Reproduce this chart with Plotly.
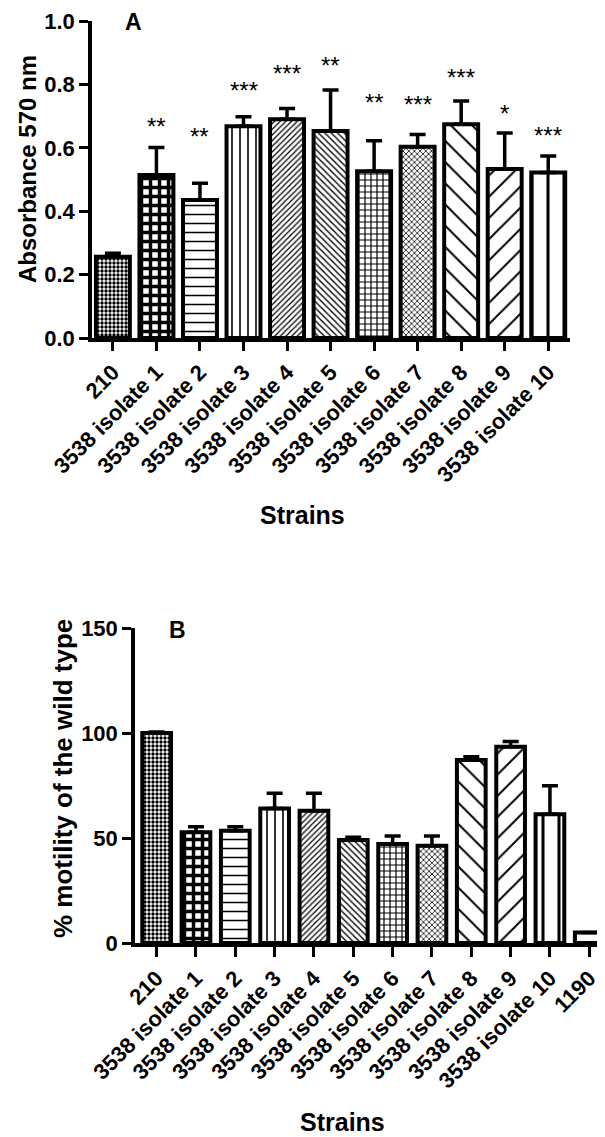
import plotly.graph_objects as go

# page body has a default 8px margin, so the figure is drawn 8px smaller
PAGE_W, PAGE_H = 605, 1137
OFF = 8
W, H = PAGE_W - OFF, PAGE_H - OFF

# ---------------- data ----------------
strains_a = ["210", "3538 isolate 1", "3538 isolate 2", "3538 isolate 3", "3538 isolate 4",
             "3538 isolate 5", "3538 isolate 6", "3538 isolate 7", "3538 isolate 8",
             "3538 isolate 9", "3538 isolate 10"]
absorbance = [0.256, 0.514, 0.435, 0.668, 0.690, 0.653, 0.526, 0.603, 0.674, 0.533, 0.522]
absorbance_sem = [0.011, 0.087, 0.053, 0.030, 0.034, 0.129, 0.096, 0.039, 0.074, 0.114, 0.052]
significance = ["", "**", "**", "***", "***", "**", "**", "***", "***", "*", "***"]
star_heights = [0, 0.668, 0.636, 0.780, 0.833, 0.859, 0.743, 0.738, 0.822, 0.708, 0.638]

strains_b = strains_a + ["1190"]
motility = [100, 52.7, 53.4, 64.1, 63.0, 49.0, 47.1, 46.3, 87.2, 93.5, 61.3, 5.0]
motility_sem = [0.5, 2.6, 1.9, 7.2, 8.3, 1.3, 3.8, 4.6, 1.5, 2.4, 13.6, 0.0]

# ---------------- styles ----------------
pat_shapes = [".", "+", "-", "|", "/", "\\", "+", "x", "\\", "/", "|", ""]
pat_sizes = [4, 9, 9, 8, 4, 4.5, 6, 4, 15, 15, 16, 8]
pat_solid = [0.55, 0.62, 0.17, 0.2, 0.3, 0.3, 0.36, 0.35, 0.13, 0.13, 0.19, 0.2]

FONT = "Liberation Sans, Arial, sans-serif"


def px_x(p):
    return (p - OFF) / W


def px_y(p):
    return 1 - (p - OFF) / H


fig = go.Figure()

na = len(strains_a)
fig.add_trace(go.Bar(
    x=strains_a, y=absorbance, xaxis="x", yaxis="y", width=0.78,
    marker=dict(color="white", line=dict(color="black", width=4),
                pattern=dict(shape=pat_shapes[:na], size=pat_sizes[:na], solidity=pat_solid[:na],
                             fgcolor="black", bgcolor="white", fillmode="replace")),
    error_y=dict(type="data", array=absorbance_sem, arrayminus=[0] * na, symmetric=False,
                 color="black", thickness=3.5, width=8),
    showlegend=False, hoverinfo="x+y",
))

nb = len(strains_b)
fig.add_trace(go.Bar(
    x=strains_b, y=motility, xaxis="x2", yaxis="y2", width=0.73,
    marker=dict(color="white", line=dict(color="black", width=4),
                pattern=dict(shape=pat_shapes[:nb], size=pat_sizes[:nb], solidity=pat_solid[:nb],
                             fgcolor="black", bgcolor="white", fillmode="replace")),
    error_y=dict(type="data", array=motility_sem, arrayminus=[0] * nb, symmetric=False,
                 color="black", thickness=3.5, width=8),
    showlegend=False, hoverinfo="x+y",
))

tickfont = dict(family=FONT, size=22, color="black", weight="bold")
axis_common = dict(showline=True, linecolor="black", linewidth=3.5, ticks="outside",
                   tickcolor="black", tickwidth=3, showgrid=False, zeroline=False,
                   automargin=False, tickfont=tickfont)

fig.update_layout(
    width=W, height=H, margin=dict(l=0, r=0, t=0, b=0),
    paper_bgcolor="white", plot_bgcolor="white",
    font=dict(family=FONT, color="black"),
    xaxis=dict(domain=[px_x(92), px_x(570)], anchor="y", range=[-0.48, 10.5],
               tickangle=-45, ticklen=9, **axis_common),
    yaxis=dict(domain=[px_y(338), px_y(21)], anchor="x", range=[0, 1.0], dtick=0.2,
               tickformat=".1f", ticklen=9, **axis_common),
    xaxis2=dict(domain=[px_x(135), px_x(605)], anchor="y2", range=[-0.55, 11.4],
                tickangle=-45, ticklen=10, **axis_common),
    yaxis2=dict(domain=[px_y(943), px_y(628)], anchor="x2", range=[0, 150], dtick=50,
                ticklen=9, **axis_common),
)

ann = []
# significance stars
for i, s in enumerate(significance):
    if s:
        ann.append(dict(x=strains_a[i], y=star_heights[i], xref="x", yref="y", text=s,
                        showarrow=False, xanchor="center", yanchor="middle",
                        font=dict(family=FONT, size=24, color="black")))

title_font = dict(family=FONT, color="black", weight="bold")
centered = dict(xref="paper", yref="paper", showarrow=False, xanchor="center", yanchor="middle")
ann += [
    dict(x=px_x(133), y=px_y(22), text="A", font=dict(size=23, **title_font), **centered),
    dict(x=px_x(178), y=px_y(630), text="B", font=dict(size=23, **title_font), **centered),
    dict(x=px_x(28), y=px_y(169), text="Absorbance 570 nm", textangle=-90,
         font=dict(size=24, **title_font), **centered),
    dict(x=px_x(63), y=px_y(779), text="% motility of the wild type", textangle=-90,
         font=dict(size=26, **title_font), **centered),
    dict(x=px_x(302), y=px_y(515), text="Strains", font=dict(size=25, **title_font), **centered),
    dict(x=px_x(343), y=px_y(1122), text="Strains", font=dict(size=25, **title_font), **centered),
]
fig.update_layout(annotations=ann)

fig.write_html("out.html")
